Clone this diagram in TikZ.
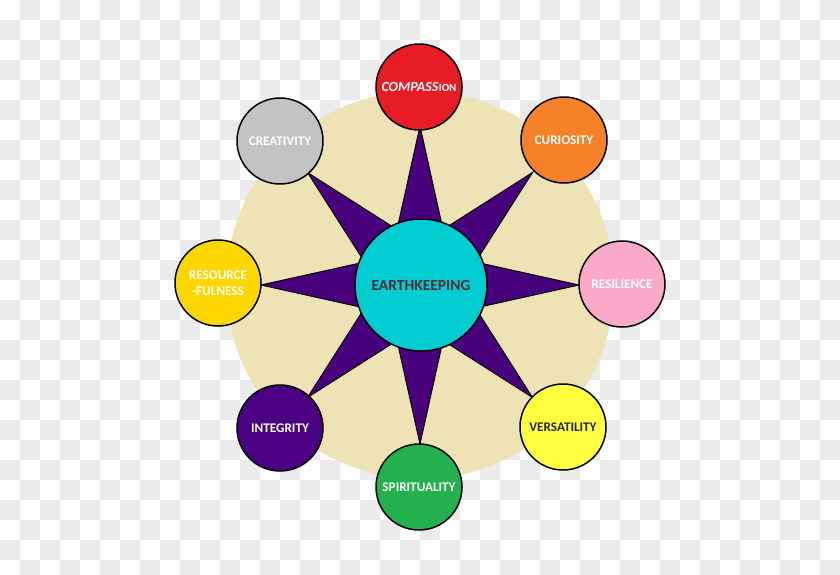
\documentclass[tikz,border=0pt]{standalone}
\usepackage{fontspec}
\setmainfont{Carlito}
\definecolor{chk}{HTML}{EBEBEB}
\definecolor{beige}{HTML}{EEE3B5}
\definecolor{starpurple}{HTML}{48007D}
\definecolor{teal}{HTML}{00CCD1}
\definecolor{cred}{HTML}{E81C24}
\definecolor{corange}{HTML}{F58228}
\definecolor{cpink}{HTML}{FAAAC8}
\definecolor{cyellow}{HTML}{FFFF40}
\definecolor{cgreen}{HTML}{22B14C}
\definecolor{cpurple}{HTML}{4B0082}
\definecolor{cgold}{HTML}{FFD700}
\definecolor{cgray}{HTML}{C3C3C3}
\definecolor{maroon}{HTML}{5C2A33}
\begin{document}
\begin{tikzpicture}[x=1pt,y=-1pt,
  virtue/.style={circle, draw=black, line width=1.5pt, minimum size=86pt, inner sep=0pt,
    align=center, text=white, font=\bfseries\fontsize{13.2}{14}\selectfont},
  hub/.style={circle, draw=black, line width=1.5pt, fill=teal, minimum size=132pt, inner sep=0pt,
    text=maroon, font=\bfseries\fontsize{15.5}{17}\selectfont},
  starshape/.style={fill=starpurple, draw=black, line width=1pt, line join=miter}]
\useasboundingbox (0,0) rectangle (840,574);
% checkerboard background
\fill[white] (0,0) rectangle (840,574);
\foreach \j in {0,...,28}{
  \pgfmathtruncatemacro\s{mod(\j+1,2)}
  \pgfmathtruncatemacro\t{\s+2}
  \foreach \i in {\s,\t,...,41}{
    \fill[chk] (\i*20,\j*20) rectangle ++(20,20);
  }
}
% beige disc
\fill[beige] (420,285) circle (194);
% star
\begin{scope}[shift={(420,285)}]
\draw[starshape] (0:159) -- (22.5:60) -- (45:159) -- (67.5:60) -- (90:159) -- (112.5:60)
  -- (135:159) -- (157.5:60) -- (180:159) -- (202.5:60) -- (225:159) -- (247.5:60)
  -- (270:159) -- (292.5:60) -- (315:159) -- (337.5:60) -- cycle;
\end{scope}
% hub
\node[hub] (earth) at (421,285) {EARTHKEEPING};
% virtues
\node[virtue, fill=cred, font=\bfseries\fontsize{14}{15}\selectfont] (comp) at (419,87)
  {\textit{COMPASS}\kern0.3pt{\fontsize{11}{12}\selectfont ION}};
\node[virtue, fill=corange] (cur) at (564,140) {CURIOSITY};
\node[virtue, fill=cpink] (res) at (622,284) {RESILIENCE};
\node[virtue, fill=cyellow, text=black!85] (ver) at (563,427) {VERSATILITY};
\node[virtue, fill=cgreen] (spi) at (419,487) {SPIRITUALITY};
\node[virtue, fill=cpurple] (int) at (280,428) {INTEGRITY};
\node[virtue, fill=cgold, font=\bfseries\fontsize{13.2}{16}\selectfont] (rsf) at (218,283) {RESOURCE\\-FULNESS};
\node[virtue, fill=cgray] (cre) at (280,141) {CREATIVITY};
\end{tikzpicture}
\end{document}
